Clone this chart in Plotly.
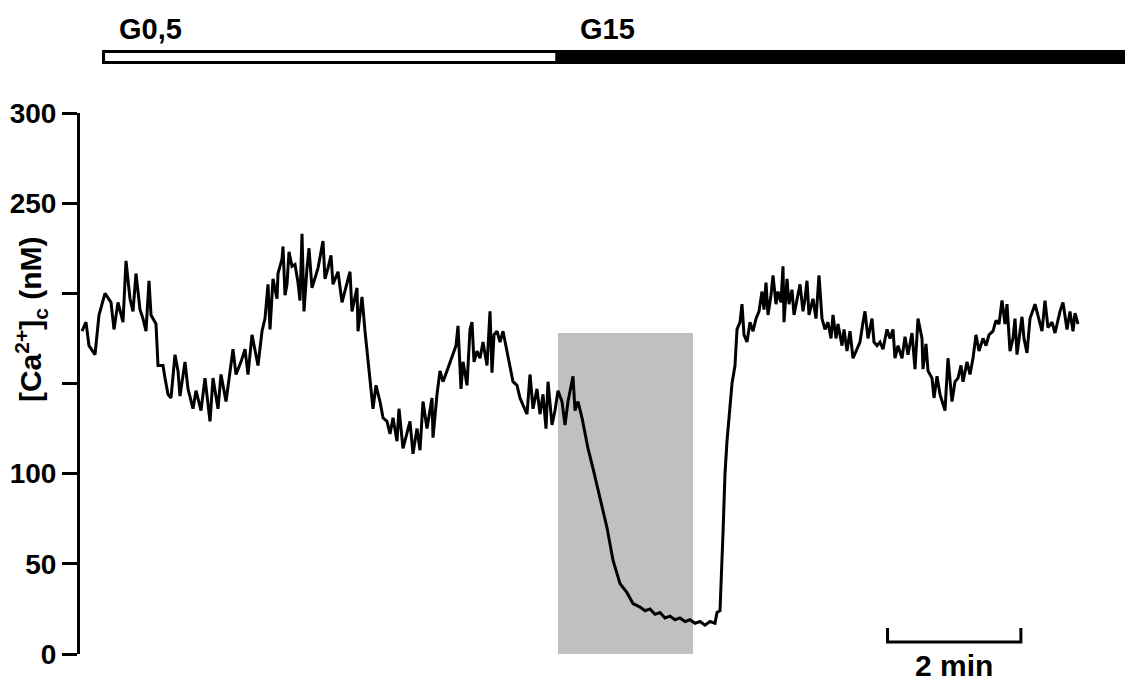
import plotly.graph_objects as go

# ---- data (time in s, [Ca2+]c in nM) ----
time_s = [0.0, 3.6, 6.3, 11.7, 15.3, 20.7, 26.1, 28.8, 32.4, 36.9, 39.6, 43.2, 45.9, 48.6, 52.2, 54.9, 57.6,
          60.3, 62.1, 66.6, 68.4, 72.9, 74.7, 77.4, 80.1, 83.7, 86.4, 88.2, 92.7, 95.4, 99.9, 102.6, 107.1,
          110.7, 115.2, 117.9, 122.4, 125.1, 129.6, 135.9, 138.6, 143.1, 146.7, 149.4, 153.0, 156.6, 158.4,
          162.0, 164.7, 167.4, 169.2, 171.9, 175.5, 176.4, 180.0, 180.9, 182.7, 184.5, 186.3, 189.0, 191.7,
          194.4, 196.2, 198.0, 199.8, 202.5, 204.3, 207.0, 209.7, 212.4, 216.9, 218.7, 221.4, 224.1, 225.9,
          230.4, 234.0, 238.5, 241.2, 243.0, 247.5, 248.4, 252.0, 254.7, 257.4, 259.2, 261.9, 264.6, 268.2,
          270.9, 274.5, 277.2, 279.9, 283.5, 285.3, 288.9, 292.5, 295.2, 297.9, 301.5, 304.2, 306.9, 310.5,
          315.0, 315.9, 319.5, 322.2, 324.9, 328.5, 331.2, 333.9, 336.6, 338.4, 341.1, 342.9, 346.5, 349.2,
          351.0, 352.8, 355.5, 358.2, 360.9, 364.5, 367.2, 369.0, 370.8, 373.5, 376.2, 378.9, 382.5, 385.2,
          387.9, 391.5, 394.2, 396.9, 400.5, 403.2, 405.9, 409.5, 412.2, 414.9, 417.6, 419.4, 423.0, 425.7,
          428.4, 432.0, 434.7, 437.4, 441.9, 443.7, 446.4, 450.0, 452.7, 455.4, 459.9, 466.2, 472.5, 477.9,
          484.2, 490.5, 495.9, 502.2, 506.7, 511.2, 515.7, 520.2, 524.7, 529.2, 533.7, 538.2, 542.7, 547.2,
          551.7, 556.2, 560.7, 565.2, 569.7, 571.5, 574.2, 576.9, 578.7, 580.5, 583.2, 585.0, 587.7, 589.5,
          592.2, 594.0, 595.8, 598.5, 601.2, 603.9, 606.6, 609.3, 612.0, 613.8, 615.6, 617.4, 620.1, 621.9,
          624.6, 626.4, 629.1, 630.9, 631.8, 634.5, 636.3, 639.0, 640.8, 643.5, 646.2, 648.9, 650.7, 652.5,
          654.3, 657.9, 660.6, 663.3, 666.0, 668.7, 671.4, 674.1, 675.9, 678.6, 680.4, 684.0, 685.8, 688.5,
          691.2, 693.9, 697.5, 700.2, 702.9, 704.7, 707.4, 711.0, 712.8, 715.5, 718.2, 720.9, 724.5, 727.2,
          729.9, 731.7, 734.4, 738.0, 740.7, 743.4, 747.0, 749.7, 752.4, 756.0, 756.9, 759.6, 761.4, 765.0,
          766.8, 769.5, 772.2, 774.9, 776.7, 779.4, 783.0, 785.7, 788.4, 791.1, 792.9, 796.5, 799.2, 801.9,
          804.6, 807.3, 810.9, 813.6, 816.3, 819.9, 822.6, 825.3, 828.0, 830.7, 832.5, 835.2, 837.9, 839.7,
          841.5, 846.0, 847.8, 850.5, 853.2, 857.7, 860.4, 864.0, 866.7, 869.4, 873.0, 875.7, 880.2, 882.9,
          886.5, 889.2, 891.9, 893.7, 896.4]

ca_nM = [179, 184, 171, 166, 188, 200, 195, 180, 195, 184, 218, 197, 190, 211, 191, 186, 179,
         207, 188, 183, 160, 160, 153, 144, 142, 166, 157, 143, 162, 147, 136, 146, 135,
         153, 129, 153, 136, 155, 140, 169, 155, 162, 169, 155, 177, 166, 160,
         179, 186, 205, 180, 208, 197, 211, 219, 226, 199, 205, 223, 215, 216,
         206, 196, 233, 190, 214, 225, 203, 208, 214, 229, 208, 214, 221, 205,
         212, 195, 206, 212, 190, 203, 179, 198, 179, 162, 149, 136, 149, 140,
         131, 129, 122, 131, 118, 136, 114, 122, 129, 111, 125, 113, 140, 125,
         142, 120, 144, 157, 151, 157, 162, 166, 171, 182, 147, 162, 149, 180,
         184, 162, 168, 164, 173, 160, 190, 156, 177, 179, 173, 179, 168, 158,
         151, 149, 142, 138, 133, 155, 136, 147, 133, 144, 125, 151, 127, 135,
         146, 140, 127, 140, 154, 135, 140, 131, 122, 114, 103, 87, 70, 52,
         39, 34, 28, 26, 24, 25, 22, 23, 20, 21, 19, 20, 18, 19,
         17, 18, 16, 18, 17, 23, 24, 67, 100, 118, 135, 150, 160, 180,
         184, 194, 177, 173, 184, 179, 186, 190, 201, 191, 206, 188, 199, 210,
         194, 201, 195, 215, 184, 208, 194, 202, 188, 197, 205, 190, 197, 207,
         188, 197, 186, 210, 186, 180, 184, 175, 188, 175, 183, 171, 180, 168,
         179, 164, 169, 173, 184, 190, 175, 186, 173, 171, 173, 169, 180, 175,
         180, 164, 171, 164, 176, 166, 178, 158, 186, 175, 158, 172, 157, 153,
         142, 154, 144, 138, 135, 164, 140, 151, 153, 160, 151, 162, 155, 164,
         177, 168, 175, 171, 177, 179, 185, 183, 196, 183, 194, 168, 175, 186,
         166, 187, 175, 167, 186, 194, 188, 179, 196, 181, 184, 178, 190, 195,
         180, 190, 179, 189, 183]

y_ticks = [0, 50, 100, 150, 200, 250, 300]
y_tick_labels = ["0", "50", "100", "", "", "250", "300"]

conditions = ["G0,5", "G15"]
cond_start = [19.4, 427.5]
cond_end = [427.5, 945.0]
cond_fill = ["white", "black"]

window_start, window_end, window_top = 428.4, 549.9, 178   # grey highlighted window
scalebar_start, scalebar_len = 725.0, 120.0                # 2 min scale bar

FONT = "Liberation Sans"
label_offsets = [12.0, 19.0]   # text starts slightly right of each bar segment start

fig = go.Figure()
fig.add_trace(go.Scatter(x=time_s, y=ca_nM, mode="lines",
                         line=dict(color="black", width=3), showlegend=False,
                         hoverinfo="skip"))
# invisible trace that creates the condition-bar subplot
fig.add_trace(go.Scatter(x=[cond_start[0]], y=[0], yaxis="y2", mode="markers",
                         marker=dict(opacity=0), showlegend=False, hoverinfo="skip"))

shapes = []
shapes.append(dict(type="rect", xref="x", yref="y", x0=window_start, x1=window_end,
                   y0=0, y1=window_top, fillcolor="#c0c0c0", line=dict(width=0), layer="below"))
for s, e, f in zip(cond_start, cond_end, cond_fill):
    shapes.append(dict(type="rect", xref="x", yref="y2", x0=s, x1=e, y0=6.5, y1=17.5,
                       fillcolor=f, line=dict(color="black", width=3)))
sb_end = scalebar_start + scalebar_len
shapes.append(dict(type="path", xref="x", yref="y",
                   path=f"M {scalebar_start},14.4 L {scalebar_start},6.7 L {sb_end},6.7 L {sb_end},14.4",
                   line=dict(color="black", width=3)))

annotations = []
for name, s, off in zip(conditions, cond_start, label_offsets):
    annotations.append(dict(text=name, xref="x", yref="paper", x=s + off, y=0.955,
                            xanchor="left", yanchor="middle", showarrow=False,
                            font=dict(family=FONT, size=29, color="black", weight="bold")))
annotations.append(dict(text="2 min", xref="x", yref="paper", x=scalebar_start + scalebar_len / 2,
                        y=0.010, xanchor="center", yanchor="top", showarrow=False,
                        font=dict(family=FONT, size=30, color="black", weight="bold")))
annotations.append(dict(text="[Ca<sup>2+</sup>]<sub>c</sub> (nM)", xref="paper", yref="paper",
                        x=-0.047, y=0.512, xanchor="center", yanchor="middle", textangle=-90,
                        showarrow=False,
                        font=dict(family=FONT, size=30, color="black", weight="bold")))

fig.update_layout(
    width=1125, height=679,
    margin=dict(l=80, r=0, t=0, b=25, pad=0, autoexpand=False),
    paper_bgcolor="white", plot_bgcolor="white",
    showlegend=False,
    xaxis=dict(visible=False, range=[-1.8, 938.7], fixedrange=True, automargin=False),
    yaxis=dict(range=[0, 300], domain=[0, 0.8272], tickvals=y_ticks, ticktext=y_tick_labels,
               ticks="outside", ticklen=15, tickwidth=3, tickcolor="black", automargin=False,
               showline=True, linewidth=3, linecolor="black", showgrid=False, zeroline=False,
               tickfont=dict(family=FONT, size=28, color="black", weight="bold")),
    yaxis2=dict(range=[0, 24], domain=[0.8945, 0.9312], visible=False, anchor="x", automargin=False),
    shapes=shapes, annotations=annotations,
)

fig.write_html("out.html")
